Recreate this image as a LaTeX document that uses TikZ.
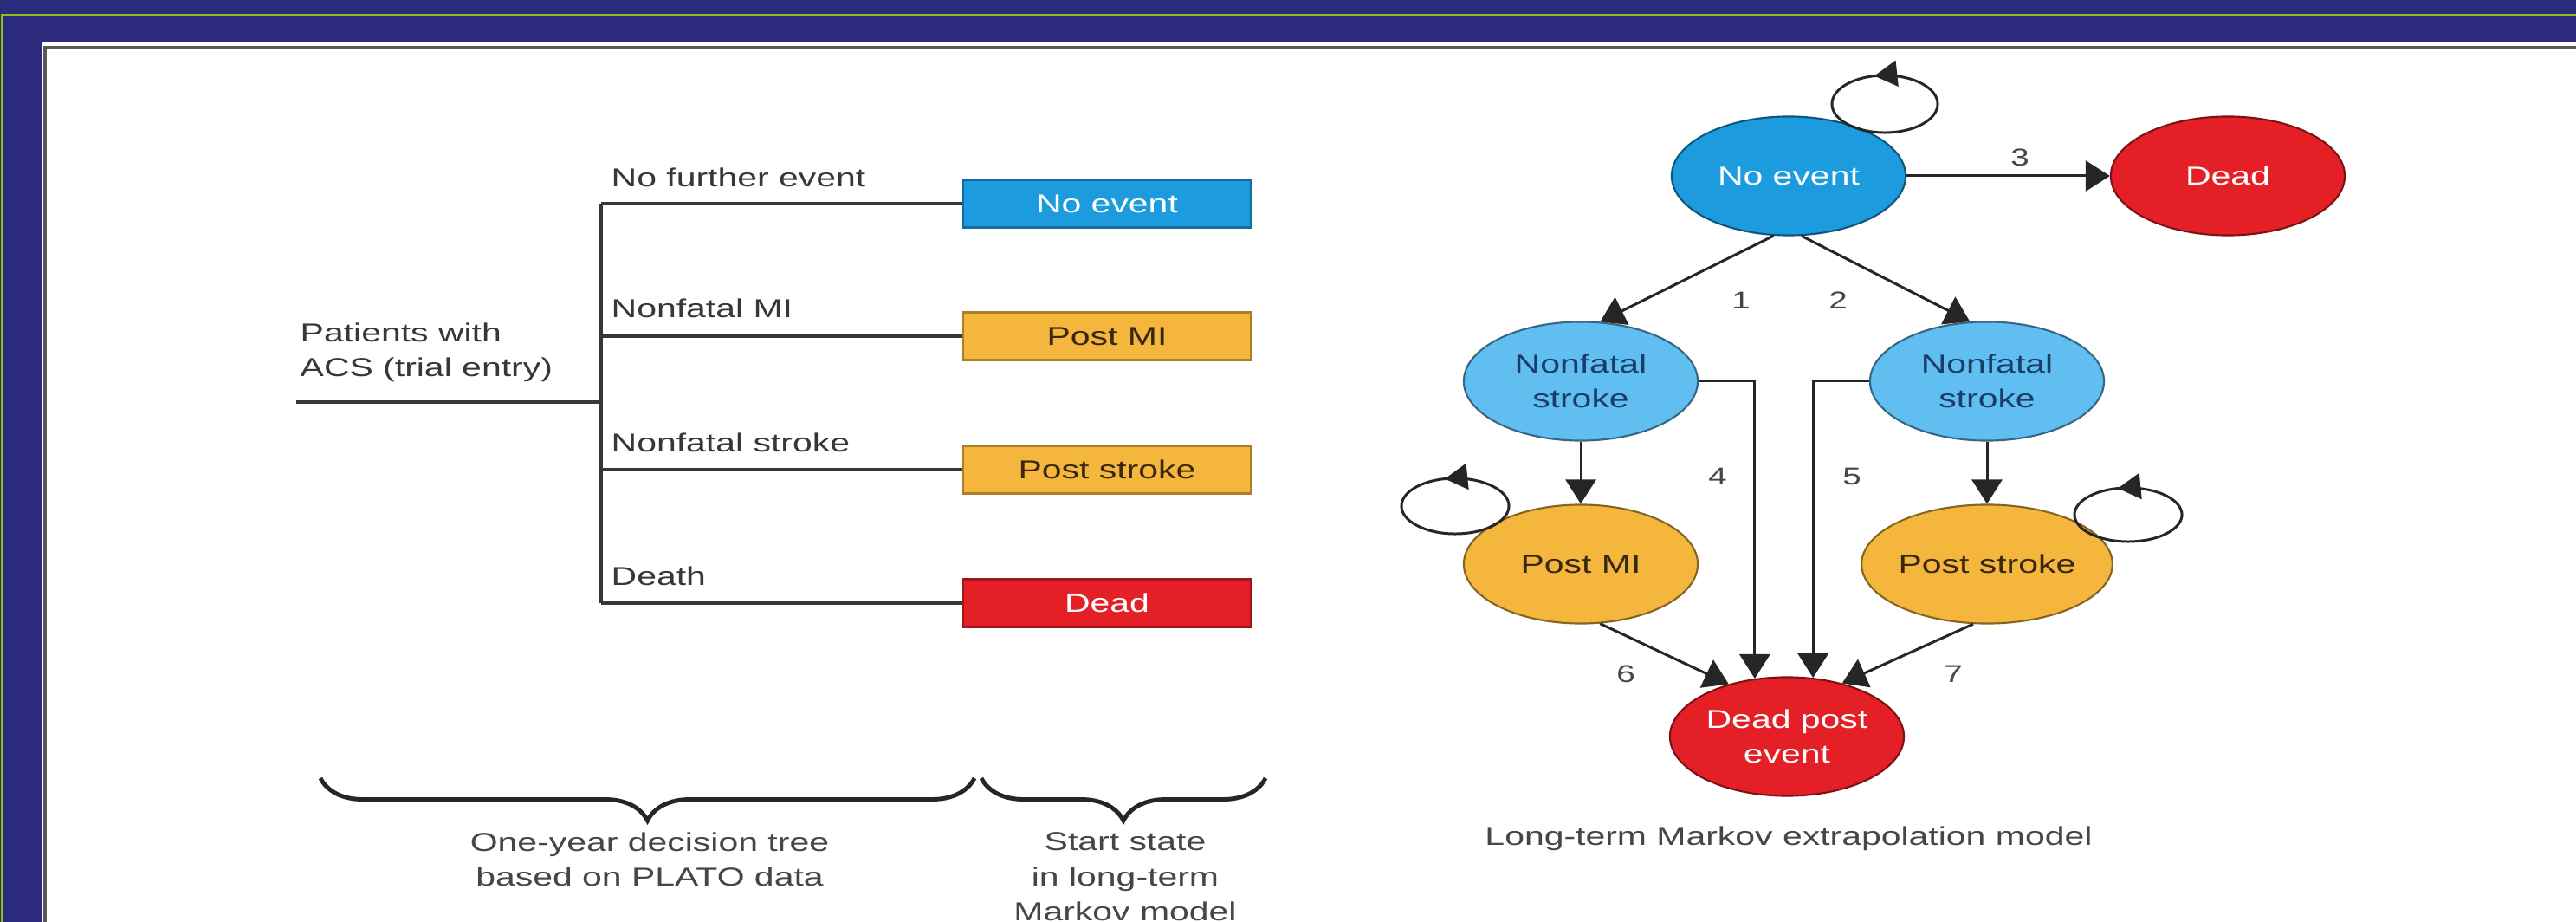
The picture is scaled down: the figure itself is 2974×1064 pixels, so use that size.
\documentclass[tikz,border=0pt]{standalone}
\usepackage{fontspec}
\setmainfont{Liberation Sans}[FakeStretch=1.37]
\definecolor{FrameNavy}{RGB}{43, 42, 125}
\definecolor{FrameGreen}{RGB}{140, 190, 20}
\definecolor{TreeGrey}{RGB}{55, 55, 55}
\definecolor{LabelGrey}{RGB}{70, 70, 70}
\definecolor{StateBlue}{RGB}{29, 155, 223}
\definecolor{StateLightBlue}{RGB}{96, 190, 240}
\definecolor{StateOrange}{RGB}{244, 182, 60}
\definecolor{StateRed}{RGB}{228, 32, 38}
\definecolor{TextNavy}{RGB}{25, 60, 105}
\definecolor{TextBrown}{RGB}{55, 40, 15}
\usetikzlibrary{arrows.meta, positioning, shapes.geometric, calc, decorations.pathreplacing, decorations.markings}

\begin{document}
\begin{tikzpicture}[
  x=0.01cm, y=-0.01cm,
  font=\fontsize{8.5pt}{11.5pt}\selectfont,
  branch/.style={line width=0.95pt, draw=TreeGrey},
  startbox/.style={
    rectangle, draw=#1!70!black, fill=#1, line width=0.6pt,
    minimum width=3.31cm, minimum height=0.55cm, inner sep=0pt
  },
  markov/.style={
    ellipse, draw=#1!55!black, fill=#1, line width=0.6pt,
    minimum width=2.7cm, minimum height=1.37cm, inner sep=0pt, align=center
  },
  arrow/.style={-{Triangle[length=8pt, width=10pt]}, line width=0.85pt, draw=black!85},
  selfloop/.style={
    line width=0.85pt, draw=black!85,
    decoration={markings, mark=at position 0.29 with {\arrow{Triangle[length=7.5pt, width=8.5pt]}}},
    postaction=decorate
  },
  curly/.style={decorate, decoration={brace, amplitude=0.49cm}, line width=1.4pt, draw=black!85},
  num/.style={text=LabelGrey, font=\fontsize{8pt}{10pt}\selectfont},
  label/.style={text=TreeGrey, align=left, inner sep=0pt},
  caption/.style={text=LabelGrey, align=center, inner sep=0pt},
]
\useasboundingbox (0,0) rectangle (2974,1064);
\fill[FrameNavy] (0,0) rectangle (2974,1064);
\draw[FrameGreen, line width=0.6pt] (2,1064) -- (2,17) -- (2974,17);
\fill[white] (48,48) rectangle (2974,1064);
\draw[black!65, line width=1pt] (52,1064) -- (52,55) -- (2974,55);

\coordinate (root) at (342,464);
\coordinate (split) at (694,464);
\node[startbox=StateBlue, text=white] (tnoev) at (1278,235) {No event};
\node[startbox=StateOrange, text=TextBrown] (tpmi) at (1278,388) {Post MI};
\node[startbox=StateOrange, text=TextBrown] (tpst) at (1278,542) {Post stroke};
\node[startbox=StateRed, text=white] (tdead) at (1278,696) {Dead};

\node[label, anchor=west] (patients) at (346,407) {Patients with\\ACS (trial entry)};
\node[label, anchor=west] (lnofurther) at (705,205) {No further event};
\node[label, anchor=west] (lnfmi) at (705,356) {Nonfatal MI};
\node[label, anchor=west] (lnfstroke) at (705,511) {Nonfatal stroke};
\node[label, anchor=west] (ldeath) at (705,665) {Death};

\draw[branch] (root) -- (split);
\draw[branch] (split |- tnoev) -- (split |- tdead);
\foreach \b in {tnoev, tpmi, tpst, tdead}
  \draw[branch] (split |- \b) -- (\b.west);

\coordinate (treeL) at (370,898);
\coordinate (treeR) at (1125,898);
\coordinate (startL) at (1133,898);
\coordinate (startR) at (1461,898);
\draw[curly] (treeR) -- (treeL);
\draw[curly] (startR) -- (startL);
\node[caption] (treecap) at (750,992) {One-year decision tree\\based on PLATO data};
\node[caption] (startcap) at (1299,1012) {Start state\\in long-term\\Markov model};

\node[markov=StateBlue, text=white] (noev) at (2065,203) {No event};
\node[markov=StateRed, text=white] (dead) at (2572,203) {Dead};
\node[markov=StateLightBlue, text=TextNavy] (nsl) at (1825,440) {Nonfatal\\stroke};
\node[markov=StateLightBlue, text=TextNavy] (nsr) at (2294,440) {Nonfatal\\stroke};
\node[markov=StateOrange, text=TextBrown] (pmi) at (1825,651) {Post MI};
\node[markov=StateOrange, text=TextBrown] (pst) at (2294,651) {Post stroke};
\node[markov=StateRed, text=white] (dpe) at (2063,850) {Dead post\\event};
\node[caption] (markovcap) at (2065,968) {Long-term Markov extrapolation model};

\draw[selfloop] ($(noev.center)+(111,-83)$) ellipse [x radius=0.61cm, y radius=0.33cm];
\draw[selfloop] ($(pmi.center)+(-145,-67)$) ellipse [x radius=0.62cm, y radius=0.32cm];
\draw[selfloop] ($(pst.center)+(163,-57)$) ellipse [x radius=0.62cm, y radius=0.31cm];

\draw[arrow] (noev.east) -- (dead.west);
\draw[arrow] (noev.256) -- (nsl.72);
\draw[arrow] (noev.282) -- (nsr.106);
\draw[arrow] (nsl.south) -- (pmi.north);
\draw[arrow] (nsr.south) -- (pst.north);
\draw[arrow] (nsl.east) -| (dpe.119);
\draw[arrow] (nsr.west) -| (dpe.66);
\draw[arrow] (pmi.288) -- (dpe.138);
\draw[arrow] (pst.257) -- (dpe.44);

\node[num] (n1) at (2010,347) {1};
\node[num] (n2) at (2122,347) {2};
\node[num] (n3) at (2332,182) {3};
\node[num] (n4) at (1983,550) {4};
\node[num] (n5) at (2138,550) {5};
\node[num] (n6) at (1877,778) {6};
\node[num] (n7) at (2255,778) {7};
\end{tikzpicture}
\end{document}
